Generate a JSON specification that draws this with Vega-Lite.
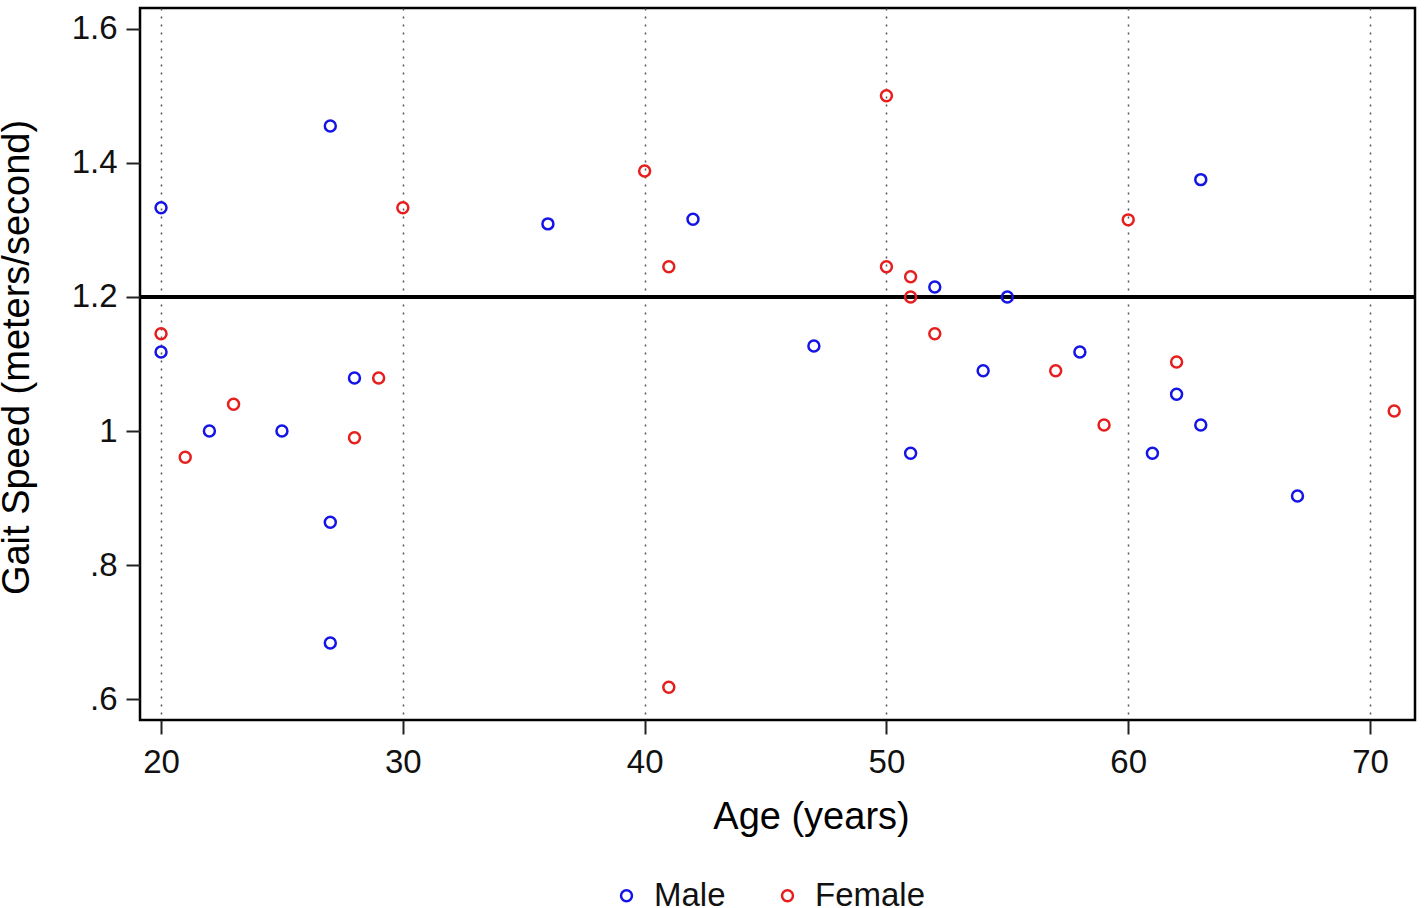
{
  "$schema": "https://vega.github.io/schema/vega-lite/v6.json",
  "autosize": "none",
  "width": 1275,
  "height": 712,
  "padding": {"left": 140, "top": 8, "right": 9, "bottom": 188},
  "background": "white",
  "config": {
    "font": "Liberation Sans",
    "view": {"stroke": "black", "strokeWidth": 2.5},
    "axis": {"labelColor": "#111", "titleColor": "#000", "tickColor": "#222", "titleFontWeight": "normal"}
  },
  "data": {
    "values": [
      {"age": 20, "speed": 1.333, "sex": "Male"},
      {"age": 27, "speed": 1.455, "sex": "Male"},
      {"age": 20, "speed": 1.118, "sex": "Male"},
      {"age": 22, "speed": 1.0, "sex": "Male"},
      {"age": 25, "speed": 1.0, "sex": "Male"},
      {"age": 27, "speed": 0.864, "sex": "Male"},
      {"age": 27, "speed": 0.684, "sex": "Male"},
      {"age": 28, "speed": 1.079, "sex": "Male"},
      {"age": 36, "speed": 1.309, "sex": "Male"},
      {"age": 42, "speed": 1.316, "sex": "Male"},
      {"age": 47, "speed": 1.127, "sex": "Male"},
      {"age": 51, "speed": 0.967, "sex": "Male"},
      {"age": 52, "speed": 1.215, "sex": "Male"},
      {"age": 54, "speed": 1.09, "sex": "Male"},
      {"age": 55, "speed": 1.2, "sex": "Male"},
      {"age": 58, "speed": 1.118, "sex": "Male"},
      {"age": 61, "speed": 0.967, "sex": "Male"},
      {"age": 62, "speed": 1.055, "sex": "Male"},
      {"age": 63, "speed": 1.009, "sex": "Male"},
      {"age": 63, "speed": 1.375, "sex": "Male"},
      {"age": 67, "speed": 0.903, "sex": "Male"},
      {"age": 20, "speed": 1.145, "sex": "Female"},
      {"age": 21, "speed": 0.961, "sex": "Female"},
      {"age": 23, "speed": 1.04, "sex": "Female"},
      {"age": 28, "speed": 0.99, "sex": "Female"},
      {"age": 29, "speed": 1.079, "sex": "Female"},
      {"age": 30, "speed": 1.333, "sex": "Female"},
      {"age": 40, "speed": 1.388, "sex": "Female"},
      {"age": 41, "speed": 1.245, "sex": "Female"},
      {"age": 41, "speed": 0.618, "sex": "Female"},
      {"age": 50, "speed": 1.5, "sex": "Female"},
      {"age": 50, "speed": 1.245, "sex": "Female"},
      {"age": 51, "speed": 1.23, "sex": "Female"},
      {"age": 51, "speed": 1.2, "sex": "Female"},
      {"age": 52, "speed": 1.145, "sex": "Female"},
      {"age": 57, "speed": 1.09, "sex": "Female"},
      {"age": 59, "speed": 1.009, "sex": "Female"},
      {"age": 60, "speed": 1.315, "sex": "Female"},
      {"age": 62, "speed": 1.103, "sex": "Female"},
      {"age": 71, "speed": 1.03, "sex": "Female"}
    ]
  },
  "layer": [
    {
      "mark": {"type": "rule", "color": "black", "strokeWidth": 3},
      "encoding": {"y": {"datum": 1.2, "type": "quantitative", "scale": {"domain": [0.569, 1.631], "nice": false, "zero": false}}}
    },
    {
      "mark": {"type": "point", "shape": "circle", "filled": false, "strokeWidth": 2.5, "size": 120, "opacity": 1},
      "encoding": {
        "x": {
          "field": "age", "type": "quantitative",
          "scale": {"domain": [19.13, 71.86], "nice": false, "zero": false},
          "axis": {
            "values": [20, 30, 40, 50, 60, 70],
            "title": "Age (years)",
            "domain": false,
            "grid": true, "gridDash": [2, 6], "gridColor": "#555", "gridWidth": 1.5,
            "tickSize": 14, "tickWidth": 2,
            "labelFontSize": 33, "labelPadding": 12,
            "titleFontSize": 38, "titleX": 671, "titleY": 108, "titleBaseline": "alphabetic", "titleAlign": "center", "titleAnchor": null
          }
        },
        "y": {
          "field": "speed", "type": "quantitative",
          "scale": {"domain": [0.569, 1.631], "nice": false, "zero": false},
          "axis": {
            "values": [0.6, 0.8, 1.0, 1.2, 1.4, 1.6],
            "labelExpr": "datum.value < 1 ? substring(format(datum.value, '.1f'), 1) : format(datum.value, '.1~f')",
            "title": "Gait Speed (meters/second)",
            "domain": false, "grid": false,
            "tickSize": 14, "tickWidth": 2,
            "labelFontSize": 33, "labelPadding": 9,
            "titleFontSize": 38, "titleAngle": -90, "titleX": -112, "titleY": 349, "titleBaseline": "alphabetic", "titleAlign": "center"
          }
        },
        "color": {
          "field": "sex", "type": "nominal",
          "scale": {"domain": ["Male", "Female"], "range": ["#1414e6", "#e61e1e"]},
          "legend": {
            "title": null, "orient": "none", "direction": "horizontal",
            "legendX": 470, "legendY": 871,
            "labelFontSize": 33, "labelColor": "#111", "labelOffset": 11,
            "symbolType": "circle", "symbolSize": 120, "symbolStrokeWidth": 2.5, "symbolFillColor": "transparent",
            "columnPadding": 45, "padding": 0
          }
        }
      }
    }
  ]
}
